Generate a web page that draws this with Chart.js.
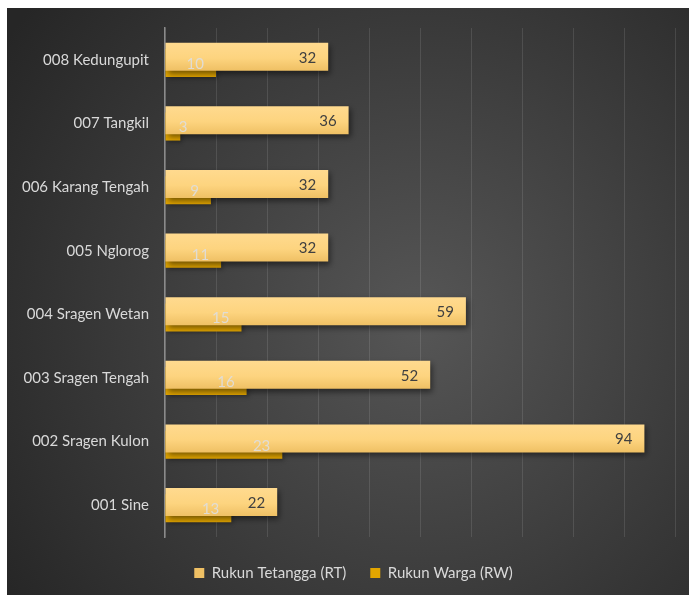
<!DOCTYPE html>
<html><head><meta charset="utf-8">
<script src="https://cdn.jsdelivr.net/npm/chart.js@4.4.1/dist/chart.umd.min.js"></script>
<style>html,body{margin:0;padding:0;background:#fff;}canvas{display:block;}</style>
</head><body>
<canvas id="c" width="689" height="595"></canvas>
<script>
const categories = ['008 Kedungupit','007 Tangkil','006 Karang Tengah','005 Nglorog','004 Sragen Wetan','003 Sragen Tengah','002 Sragen Kulon','001 Sine'];
const rtValues = [32,36,32,32,59,52,94,22];
const rwValues = [10,3,9,11,15,16,23,13];
const seriesNames = ['Rukun Tetangga (RT)','Rukun Warga (RW)'];
const xTicks = {min: 0, max: 100, step: 10};

const FONT = 'Lato';
const CAT_PCT = 0.198;
const BAR_PCT = 4.44;

function rtColor(ctx) {
  const chart = ctx.chart;
  if (ctx.dataIndex === undefined || !chart.chartArea || !chart.scales.y) return '#FDD27E';
  const y = chart.scales.y;
  const cy = y.getPixelForValue(ctx.dataIndex);
  const band = (y.height / categories.length) * CAT_PCT / 2;
  const c = cy - band / 2;
  const g = chart.ctx.createLinearGradient(0, c - 14, 0, c + 14);
  g.addColorStop(0, '#FFDA8F');
  g.addColorStop(0.55, '#FDD47F');
  g.addColorStop(1, '#EFC064');
  return g;
}

const bgPlugin = {
  id: 'bg',
  beforeDraw(chart) {
    const ctx = chart.ctx;
    ctx.save();
    ctx.fillStyle = '#ffffff';
    ctx.fillRect(0, 0, chart.width, chart.height);
    const g = ctx.createRadialGradient(420, 320, 0, 420, 320, 500);
    g.addColorStop(0, '#565656');
    g.addColorStop(1, '#262626');
    ctx.fillStyle = g;
    ctx.fillRect(7, 8, chart.width - 7, chart.height - 8);
    ctx.restore();
  }
};

const shadowPlugin = {
  id: 'shadow',
  beforeDatasetDraw(chart, args) {
    const ctx = chart.ctx;
    ctx.save();
    ctx.shadowColor = args.index === 0 ? 'rgba(0,0,0,0.5)' : 'rgba(0,0,0,0.25)';
    ctx.shadowBlur = args.index === 0 ? 6 : 4;
    ctx.shadowOffsetX = 2;
    ctx.shadowOffsetY = args.index === 0 ? 3 : 2;
  },
  afterDatasetDraw(chart) {
    chart.ctx.restore();
  }
};

const labelPlugin = {
  id: 'valueLabels',
  afterDatasetsDraw(chart) {
    const ctx = chart.ctx;
    ctx.save();
    ctx.font = '15px ' + FONT;
    ctx.textBaseline = 'middle';
    ctx.textAlign = 'right';
    [1, 0].forEach(di => {
      const meta = chart.getDatasetMeta(di);
      const vals = chart.data.datasets[di].data;
      meta.data.forEach((el, i) => {
        let x = el.x - 12;
        if (di === 1) {
          x = Math.max(x, el.base + 22);
          ctx.fillStyle = 'rgba(222,222,222,0.9)';
        } else {
          ctx.fillStyle = '#404040';
        }
        ctx.fillText(String(vals[i]), x, el.y + 1);
      });
    });
    ctx.restore();
  }
};

new Chart(document.getElementById('c'), {
  type: 'bar',
  data: {
    labels: categories,
    datasets: [
      { label: seriesNames[0], data: rtValues, backgroundColor: rtColor, borderWidth: 0,
        categoryPercentage: CAT_PCT, barPercentage: BAR_PCT },
      { label: seriesNames[1], data: rwValues, backgroundColor: '#E2A500', borderWidth: 0,
        categoryPercentage: CAT_PCT, barPercentage: BAR_PCT }
    ]
  },
  options: {
    indexAxis: 'y',
    responsive: false,
    animation: false,
    layout: { padding: { left: 0, right: -18, top: 28, bottom: 4.5 } },
    scales: {
      x: {
        min: xTicks.min, max: xTicks.max,
        ticks: { display: false, stepSize: xTicks.step },
        grid: { color: 'rgba(255,255,255,0.11)', drawTicks: false, lineWidth: 1 },
        border: { display: false },
        afterFit(s) { s.height = 4.5; }
      },
      y: {
        ticks: { color: '#d9d9d9', font: { family: FONT, size: 15 }, padding: 8 },
        grid: { display: false },
        border: { display: true, color: '#8a8a8a', width: 1.5 },
        afterFit(s) { s.width = 165; }
      },
      yR: {
        type: 'linear', position: 'right', display: true,
        ticks: { display: false }, grid: { display: false }, border: { display: false },
        afterFit(s) { s.width = 32; }
      }
    },
    plugins: {
      legend: {
        position: 'bottom',
        labels: { color: '#d9d9d9', font: { family: FONT, size: 15 }, boxWidth: 10, boxHeight: 10, padding: 24 }
      },
      tooltip: { enabled: false }
    }
  },
  plugins: [bgPlugin, shadowPlugin, labelPlugin]
});
</script>
</body></html>
